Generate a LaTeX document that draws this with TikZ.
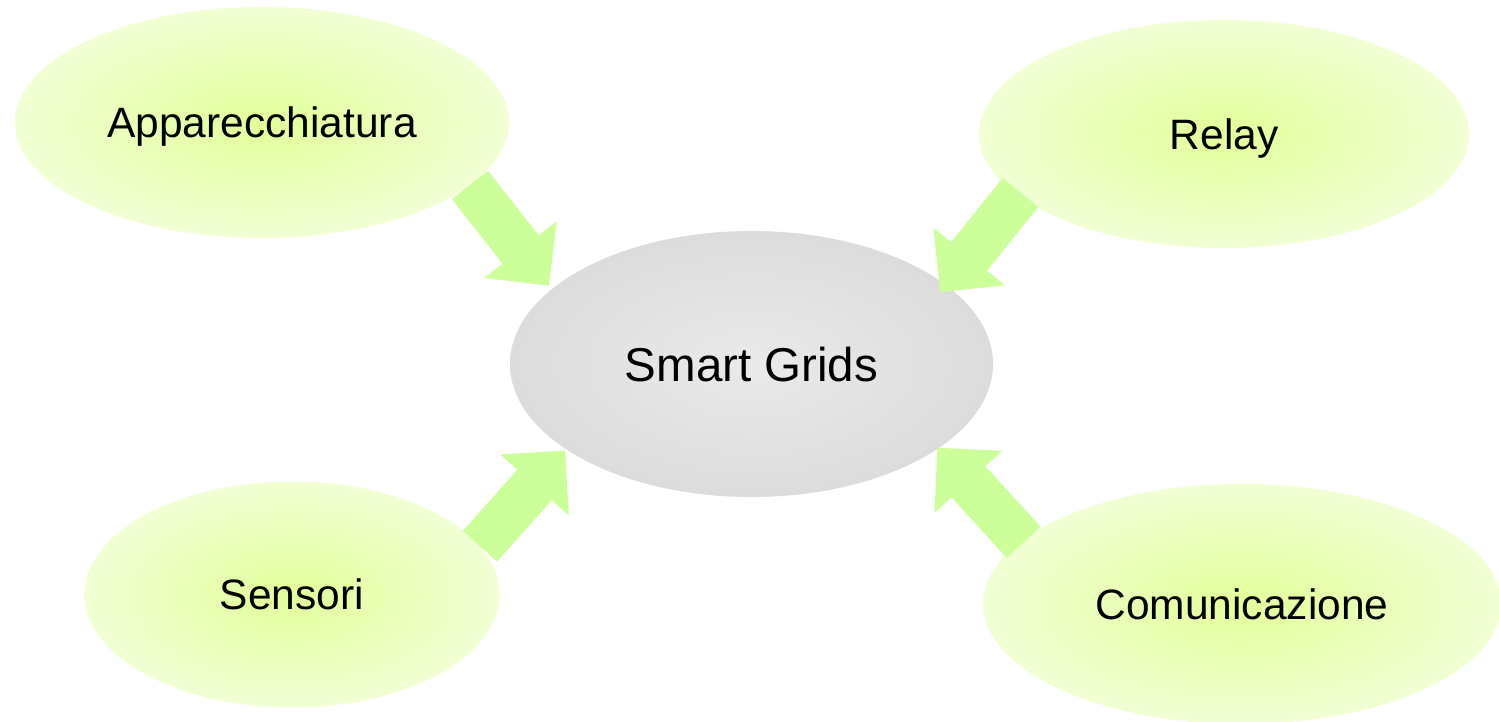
\documentclass[tikz,border=0pt]{standalone}
\usepackage{fontspec}
\setmainfont{Liberation Sans}
\usetikzlibrary{shapes.geometric}
\definecolor{arrowgreen}{HTML}{CCFF99}
\definecolor{greenin}{HTML}{E2FF99}
\definecolor{greenout}{HTML}{F1FFD4}
\definecolor{grayin}{HTML}{EAEAEA}
\definecolor{grayout}{HTML}{DCDCDC}
\tikzset{
  topic/.style={ellipse, inner sep=0pt, inner color=greenin, outer color=greenout,
    font=\fontsize{42.5}{50}\selectfont, text height=30.4pt, text depth=0pt},
  hub/.style={ellipse, inner sep=0pt, inner color=grayin, outer color=grayout,
    font=\fontsize{47.5}{56}\selectfont, text height=34pt, text depth=0pt},
  blockarrow/.pic={\fill[arrowgreen] (0,-23) -- (82,-23) -- (82,-46) -- (128,0)
    -- (82,46) -- (82,23) -- (0,23) -- cycle;}
}
\begin{document}
\begin{tikzpicture}[x=1pt,y=-1pt]
\useasboundingbox (0,0) rectangle (1499,722);
\node[hub, minimum width=483, minimum height=266] (sg) at (751.5,364) {Smart Grids};
\node[topic, minimum width=494, minimum height=231] (app) at (262,122.5) {Apparecchiatura};
\node[topic, minimum width=490, minimum height=228] (rel) at (1224,134) {Relay};
\node[topic, minimum width=415, minimum height=226] (sen) at (292,594.5) {Sensori};
\node[topic, minimum width=518, minimum height=240] (com) at (1242,604) {Comunicazione};
\coordinate (t1) at (470,185);
\coordinate (t2) at (1020.5,192.5);
\coordinate (t3) at (480,546.2);
\coordinate (t4) at (1023.7,542.3);
\pic[rotate=-51.9] (a1) at (t1) {blockarrow};
\pic[rotate=-128.8] (a2) at (t2) {blockarrow};
\pic[rotate=48.3] (a3) at (t3) {blockarrow};
\pic[rotate=132.4] (a4) at (t4) {blockarrow};
\end{tikzpicture}
\end{document}
